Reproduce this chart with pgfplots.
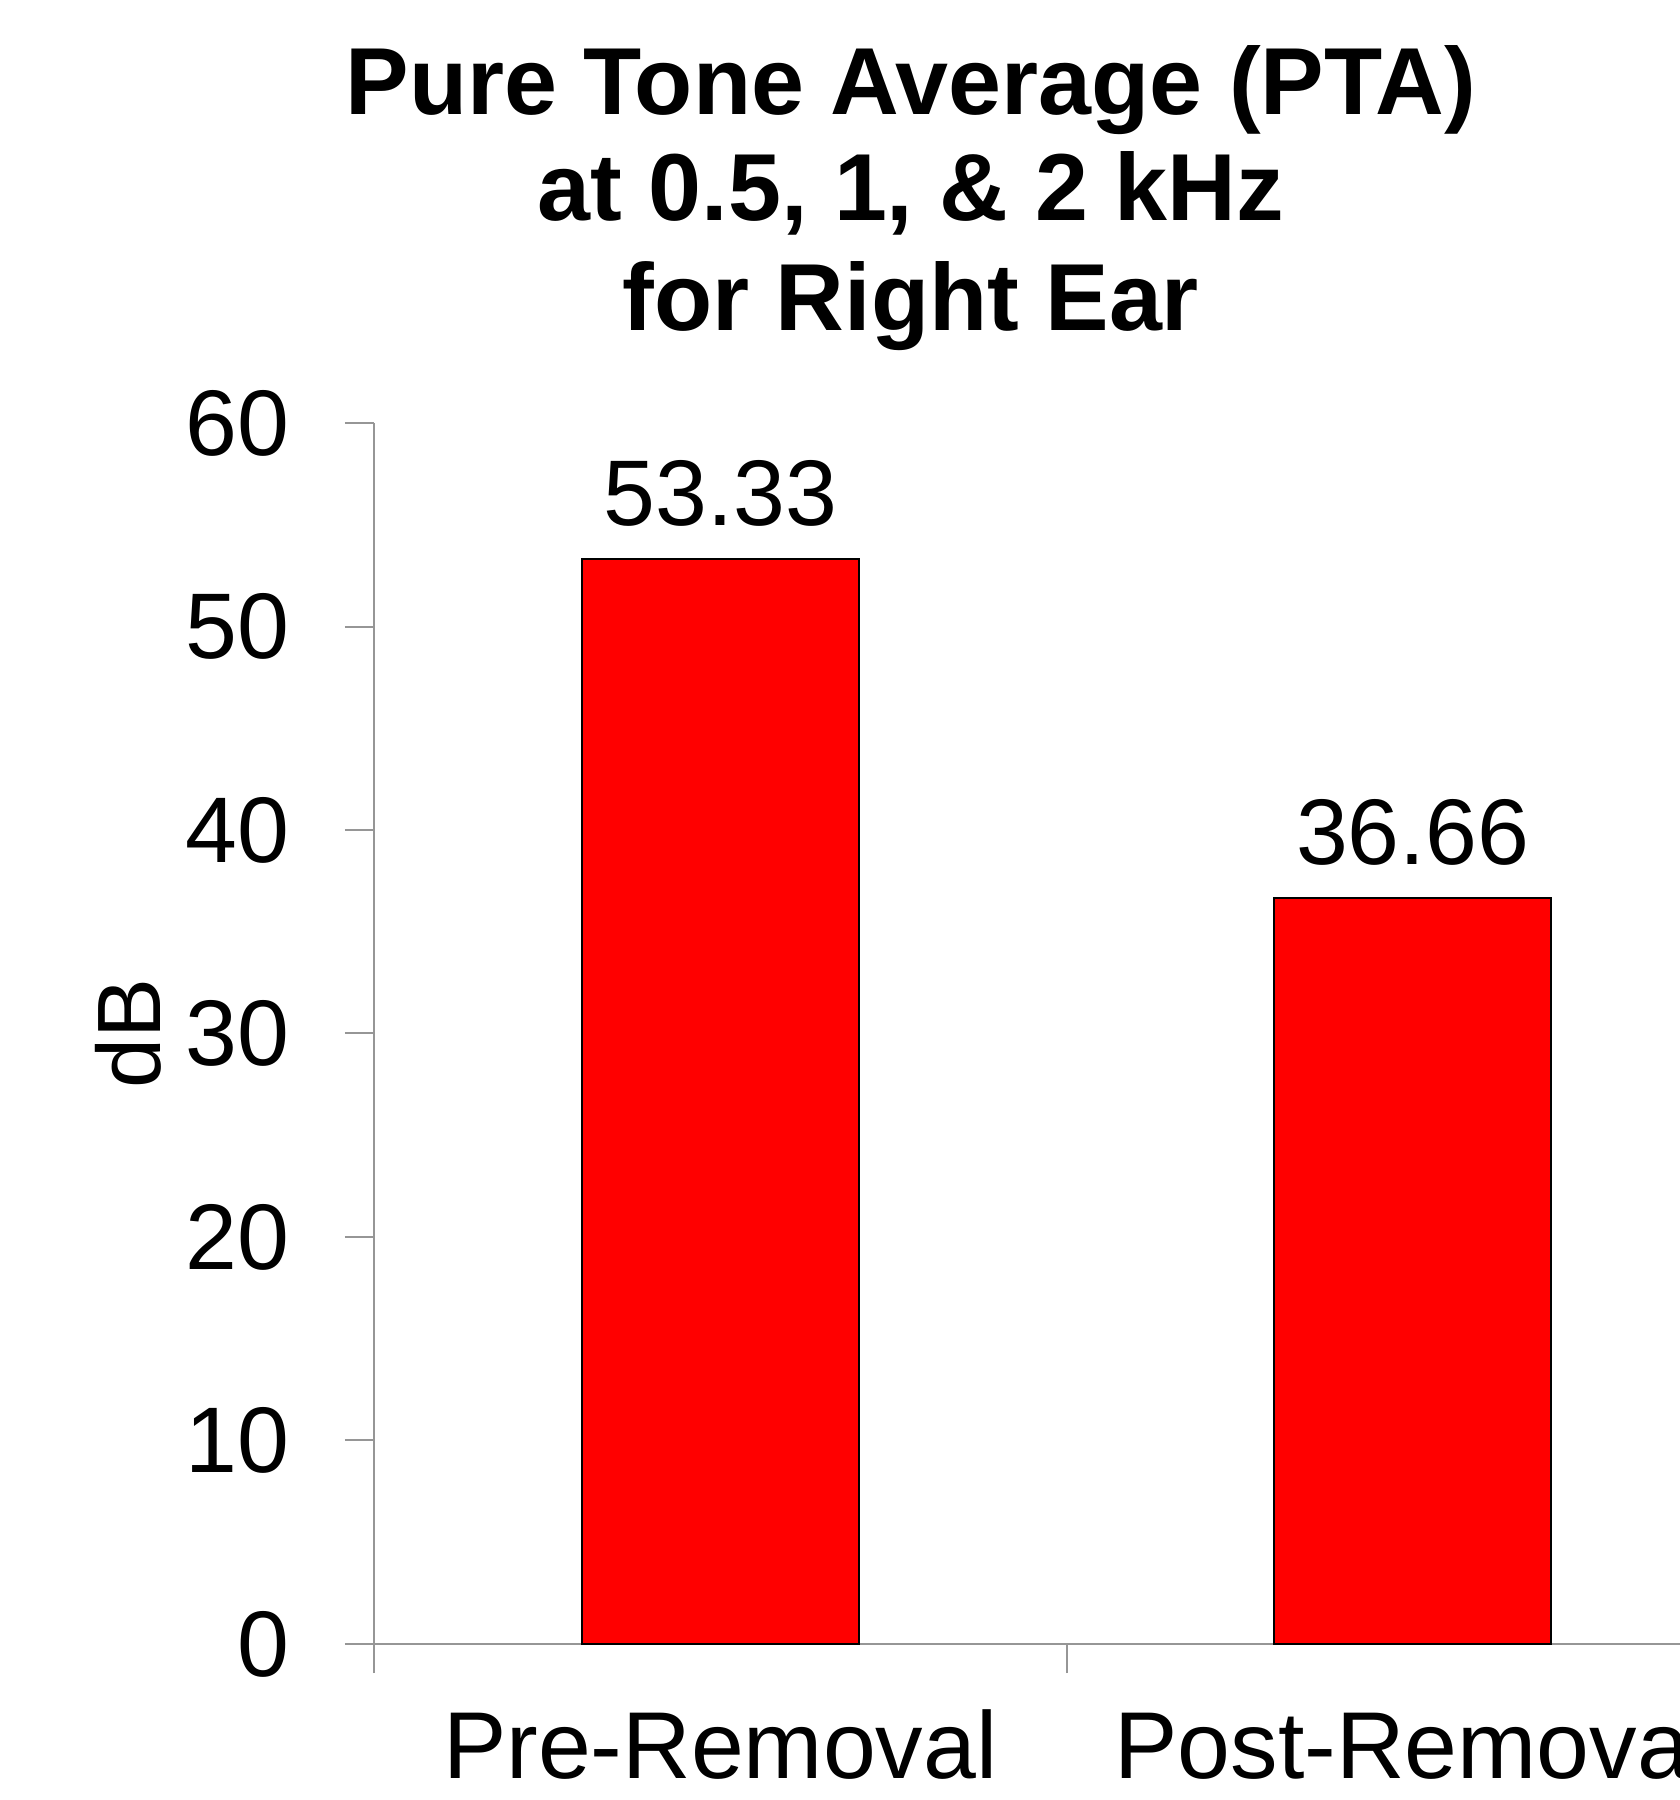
\documentclass[border=0pt]{standalone}
\usepackage{pgfplots}
\pgfplotsset{compat=1.18}
\usepackage{fontspec}
\setmainfont{Liberation Sans}
\definecolor{axgray}{RGB}{150,150,150}
\begin{document}
\begin{tikzpicture}
\useasboundingbox (0,0) rectangle (420pt,450pt);
\clip (0,0) rectangle (420pt,450pt);
\node[anchor=base, font=\fontsize{23.8}{28}\selectfont\bfseries] at (227.7pt,421.25pt) {Pure Tone Average (PTA)};
\node[anchor=base, font=\fontsize{23.8}{28}\selectfont\bfseries] at (227.7pt,394.9pt) {at 0.5, 1, \& 2 kHz};
\node[anchor=base, font=\fontsize{23.8}{28}\selectfont\bfseries] at (227.7pt,367.3pt) {for Right Ear};
\node[rotate=90, font=\fontsize{22.5}{28}\selectfont] at (32pt,191.6pt) {dB};
\begin{axis}[
  at={(93.5pt,39pt)}, anchor=south west,
  scale only axis, width=346.25pt, height=305.25pt,
  xmin=-0.5, xmax=1.5, ymin=0, ymax=60,
  axis x line=bottom, axis y line=left,
  axis line style={-, draw=axgray, line width=0.5pt},
  ytick={0,10,...,60},
  xtick={0,1}, xticklabels={Pre-Removal,Post-Removal},
  major x tick style={draw=none},
  minor xtick={-0.5,0.5,1.5},
  minor tick length=7.3pt,
  minor x tick style={draw=axgray, line width=0.5pt},
  tick align=outside, major tick length=7.3pt,
  tick style={draw=axgray, line width=0.5pt},
  /pgf/number format/assume math mode=true,
  yticklabel style={font=\fontsize{23.3}{28}\selectfont, xshift=-10.3pt},
  xticklabel style={font=\fontsize{23.75}{28}\selectfont, yshift=-5.5pt},
  ybar, bar width=0.4,
  nodes near coords,
  nodes near coords style={font=\fontsize{23.3}{28}\selectfont, anchor=south, inner sep=0pt, yshift=8pt},
  point meta=explicit symbolic,
  clip=false,
]
\addplot[fill=red, draw=black, line width=0.4pt] coordinates {(0,53.33) [53.33] (1,36.66) [36.66]};
\end{axis}
\end{tikzpicture}
\end{document}
